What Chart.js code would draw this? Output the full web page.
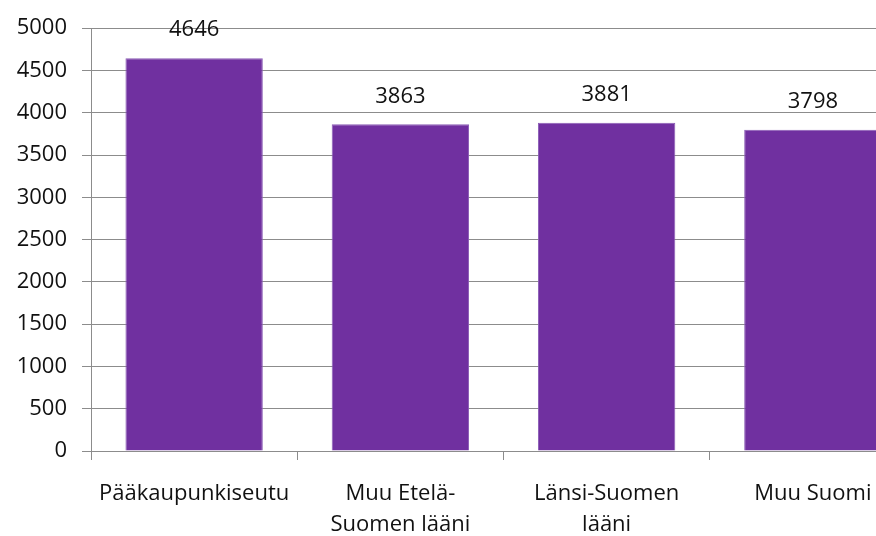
<!DOCTYPE html>
<html>
<head>
<meta charset="utf-8">
<script src="https://cdn.jsdelivr.net/npm/chart.js@4/dist/chart.umd.min.js"></script>
<style>
html,body{margin:0;padding:0;background:#fff;overflow:hidden;width:876px;height:536px;}
#wrap{position:relative;width:920px;height:536px;}
</style>
</head>
<body>
<div id="wrap"><canvas id="c" width="920" height="536"></canvas></div>
<script>
const categories = [['Pääkaupunkiseutu'], ['Muu Etelä-', 'Suomen lääni'], ['Länsi-Suomen', 'lääni'], ['Muu Suomi']];
const values = [4646, 3863, 3881, 3798];
const yMin = 0, yMax = 5000, yStep = 500;

const FONT = '"Open Sans", Lato, "Liberation Sans", sans-serif';
const canvas = document.getElementById('c');
canvas.getContext('2d').letterSpacing = '0.6px';

const labelPlugin = {
  id: 'valueLabels',
  afterDatasetsDraw(chart) {
    const ctx = chart.ctx;
    const meta = chart.getDatasetMeta(0);
    ctx.save();
    ctx.fillStyle = '#111';
    ctx.font = '22px ' + FONT;
    ctx.textAlign = 'center';
    ctx.textBaseline = 'middle';
    meta.data.forEach((bar, i) => {
      ctx.fillText(String(values[i]), bar.x, bar.y - 28);
    });
    ctx.restore();
  }
};

new Chart(canvas, {
  type: 'bar',
  data: {
    labels: categories,
    datasets: [{
      data: values,
      backgroundColor: '#7030A0',
      borderColor: '#8a5cb5',
      borderWidth: 1,
      categoryPercentage: 1,
      barPercentage: 0.666
    }]
  },
  options: {
    responsive: false,
    animation: false,
    devicePixelRatio: 1,
    layout: { padding: { top: 24, right: 4, left: 0, bottom: 0 } },
    plugins: { legend: { display: false }, tooltip: { enabled: false } },
    scales: {
      y: {
        min: yMin, max: yMax,
        afterFit(s) { s.width = 91; },
        ticks: { stepSize: yStep, color: '#111', font: { size: 22, family: FONT }, padding: 15,
                 callback: v => String(v) },
        grid: { color: '#8c8c8c', lineWidth: 1, tickLength: 9, drawTicks: true },
        border: { color: '#8c8c8c', width: 1 }
      },
      x: {
        afterFit(s) { s.height = 85; },
        ticks: { color: '#111', font: { size: 22, family: FONT, lineHeight: 1.42 }, padding: 18, maxRotation: 0, autoSkip: false },
        grid: { drawOnChartArea: false, color: '#8c8c8c', tickLength: 9, offset: true },
        border: { color: '#8c8c8c', width: 1 }
      }
    }
  },
  plugins: [labelPlugin]
});
</script>
</body>
</html>
